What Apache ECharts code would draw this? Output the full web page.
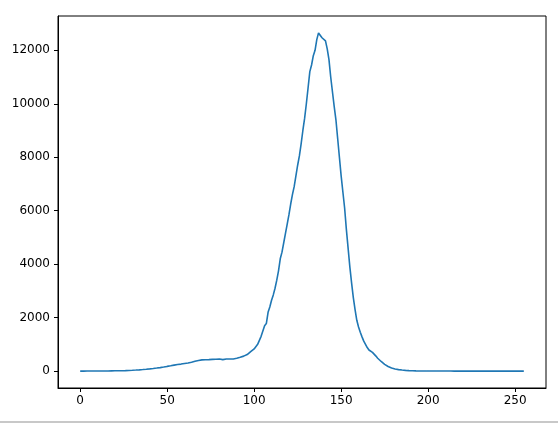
<!DOCTYPE html>
<html>
<head>
<meta charset="utf-8">
<script src="https://cdn.jsdelivr.net/npm/echarts@6/dist/echarts.min.js"></script>
<style>
html,body{margin:0;padding:0;background:#fff;}
#chart{width:558px;height:425px;}
</style>
</head>
<body>
<div id="chart"></div>
<script>
// Histogram counts for intensities 0..255
const counts = [
  0,0,0,0,1,1,1,2,2,2,3,3,4,4,5,5,6,7,8,9,
  10,11,12,14,15,17,19,21,24,27,30,34,38,42,47,52,57,63,69,76,
  83,90,98,106,114,122,131,140,150,160,175,188,198,210,222,232,245,255,262,272,
  285,295,302,318,332,345,370,390,398,405,420,412,425,418,430,428,440,432,445,470,
  455,440,430,448,452,445,455,462,452,470,482,478,520,500,560,580,620,680,730,780,
  830,900,1000,1150,1300,1320,1700,1780,2200,2400,2650,2850,3100,3400,3750,4200,4450,4800,5150,5500,
  5850,6250,6600,6900,7300,7700,8050,8500,9000,9450,10000,10600,11200,11450,11800,12000,12400,12650,12580,12470,
  12520,12350,12050,11650,11000,10450,9900,9400,8700,8000,7300,6700,6100,5300,4600,3900,3300,2750,2300,1900,
  1650,1450,1280,1120,1000,880,790,720,700,640,560,480,420,360,300,250,210,170,140,115,
  95,80,66,55,46,38,31,26,21,17,14,12,10,8,7,6,5,4,4,3,
  3,2,2,2,2,1,1,1,1,1,1,1,1,1,1,0,0,0,0,0,
  0,0,0,0,0,0,0,0,0,0,0,0,0,0,0,0,0,0,0,0,
  0,0,0,0,0,0,0,0,0,0,0,0,0,0,0,0
];
const xTicks = [0, 50, 100, 150, 200, 250];
const yTicks = [0, 2000, 4000, 6000, 8000, 10000, 12000];

const points = counts.map((v, i) => [i, v]);
const n = counts.length - 1;
const maxV = Math.max(...counts);
const chart = echarts.init(document.getElementById('chart'), null, {renderer: 'canvas'});
const font = {fontFamily: 'DejaVu Sans', fontSize: 12, color: '#000', formatter: v => String(v)};
chart.setOption({
  animation: false,
  backgroundColor: '#fff',
  grid: {left: 58, right: 12, top: 16, bottom: 37, show: true, borderColor: '#000', borderWidth: 1, backgroundColor: '#fff'},
  xAxis: {
    type: 'value',
    min: -0.05 * n, max: n * 1.05,
    axisLine: {show: true, onZero: false, lineStyle: {color: '#000', width: 1}},
    axisTick: {show: true, length: 4, customValues: xTicks, lineStyle: {color: '#000'}},
    axisLabel: Object.assign({customValues: xTicks, margin: 7}, font),
    splitLine: {show: false}
  },
  yAxis: {
    type: 'value',
    min: -0.05 * maxV, max: maxV * 1.05,
    axisLine: {show: true, onZero: false, lineStyle: {color: '#000', width: 1}},
    axisTick: {show: true, length: 4, customValues: yTicks, lineStyle: {color: '#000'}},
    axisLabel: Object.assign({customValues: yTicks, margin: 8}, font),
    splitLine: {show: false}
  },
  series: [{
    type: 'line',
    data: points,
    showSymbol: false,
    lineStyle: {color: '#1f77b4', width: 1.6},
    itemStyle: {color: '#1f77b4'}
  }],
  graphic: [{
    type: 'rect', left: 0, top: 421, shape: {width: 558, height: 2}, style: {fill: '#c8c8c8'}
  }]
});
</script>
</body>
</html>
